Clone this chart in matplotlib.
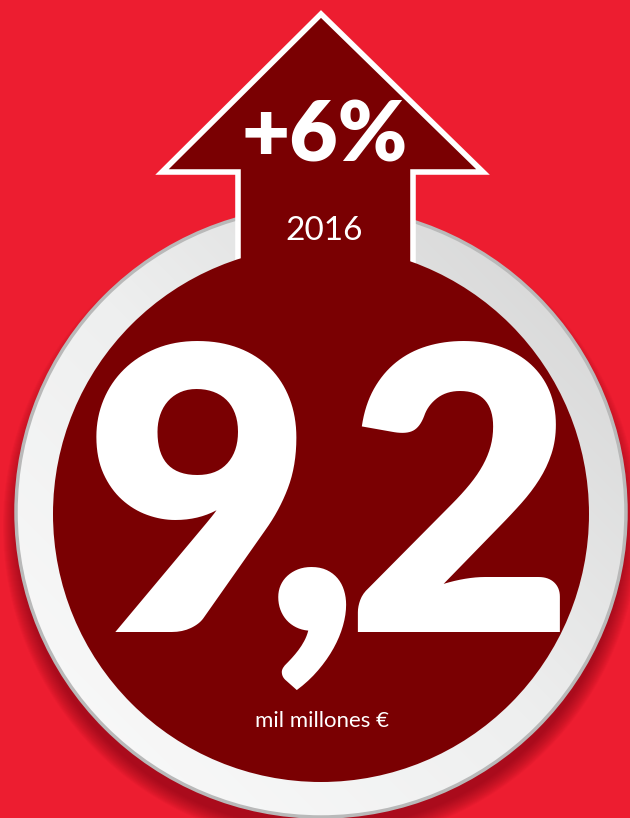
import numpy as np
import matplotlib.pyplot as plt
from matplotlib.patches import Circle, Polygon
from matplotlib.colors import LinearSegmentedColormap

# texts of the card
value = '9,2'
change = '+6%'
year = '2016'
unit = 'mil millones €'

red = '#ED1D30'
dark = '#7A0002'

fig = plt.figure(figsize=(6.3, 8.18), dpi=100)
fig.patch.set_facecolor(red)
ax = fig.add_axes([0, 0, 1, 1])
ax.set_xlim(0, 630)
ax.set_ylim(818, 0)
ax.set_aspect('equal')
ax.axis('off')

cx, cy = 321, 512

# soft shadow under the ring
for k in range(16):
    ax.add_patch(Circle((cx, cy + 14), 302 + 16 - k, facecolor='#6a0010',
                        edgecolor='none', alpha=0.04, zorder=1))

# grey ring with gradient
ring = Circle((cx, cy), 305, facecolor='none', edgecolor='#b9b9b9', lw=2.5, zorder=3)
ax.add_patch(ring)
xx, yy = np.meshgrid(np.linspace(-1, 1, 200), np.linspace(-1, 1, 200))
grad = (xx - yy) / 2
cmap = LinearSegmentedColormap.from_list('ring', ['#fbfbfb', '#eeefef', '#d2d2d2'])
im = ax.imshow(grad, extent=(cx - 306, cx + 306, cy + 306, cy - 306), cmap=cmap,
               origin='upper', zorder=2, interpolation='bilinear')
im.set_clip_path(Circle((cx, cy), 305, transform=ax.transData))

# arrow
arrow = Polygon([(321, 14), (483, 172), (413, 172), (413, 330), (238, 330),
                 (238, 172), (162, 172)], closed=True, facecolor=dark,
                edgecolor='white', lw=4, joinstyle='miter', zorder=4)
ax.add_patch(arrow)

# inner dark disc
ax.add_patch(Circle((cx, cy + 2), 268, facecolor=dark, edgecolor='none', zorder=5))

ax.text(325, 162, change, color='white', fontsize=60, fontweight='heavy',
        family='Lato', ha='center', va='baseline', zorder=6)
ax.text(324, 240, year, color='white', fontsize=24, fontweight='normal',
        family='Lato', ha='center', va='baseline', zorder=6)

# big number, one glyph at a time to keep it tight
for ch, x in zip(value, [198, 312, 460]):
    ax.text(x, 632, ch, color='white', fontsize=284, fontweight='heavy',
            family='Lato', ha='center', va='baseline', zorder=6)

ax.text(322, 727, unit, color='white', fontsize=16,
        family='Lato', ha='center', va='baseline', zorder=6)

fig.savefig('out.png', dpi=100, facecolor=red)
